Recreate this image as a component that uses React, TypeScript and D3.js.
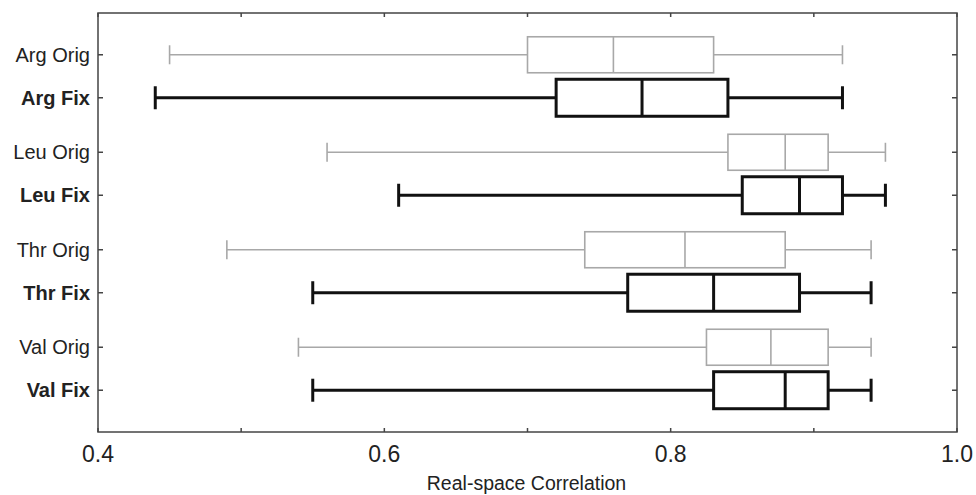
import * as d3 from 'd3';

// Data
const residues = ["Arg", "Leu", "Thr", "Val"];
const variants = ["Orig", "Fix"];

const whiskerLow = {
    Orig: [0.45, 0.56, 0.49, 0.54],
    Fix: [0.44, 0.61, 0.55, 0.55]
};
const quart1 = {
    Orig: [0.70, 0.84, 0.74, 0.825],
    Fix: [0.72, 0.85, 0.77, 0.83]
};
const medians = {
    Orig: [0.76, 0.88, 0.81, 0.87],
    Fix: [0.78, 0.89, 0.83, 0.88]
};
const quart3 = {
    Orig: [0.83, 0.91, 0.88, 0.91],
    Fix: [0.84, 0.92, 0.89, 0.91]
};
const whiskerHigh = {
    Orig: [0.92, 0.95, 0.94, 0.94],
    Fix: [0.92, 0.95, 0.94, 0.94]
};

const xTicks = [0.4, 0.5, 0.6, 0.7, 0.8, 0.9, 1.0];
const xTickLabels = [0.4, 0.6, 0.8, 1.0];

const width = 976;
const height = 495;
const margin = { left: 98, right: 19, top: 13, bottom: 63 };

const styles = {
    Orig: { stroke: "#a8a8a8", width: 1.6, cap: 9.5, half: 18, weight: "normal" },
    Fix: { stroke: "#111", width: 3, cap: 11.5, half: 18.5, weight: "bold" }
};

function App() {
    const x = d3.scaleLinear()
        .domain([0.4, 1.0])
        .range([margin.left, width - margin.right]);

    const yGroup = d3.scaleBand()
        .domain(residues)
        .range([margin.top, height - margin.bottom])
        .paddingInner(0)
        .paddingOuter(0.149);

    const ySub = d3.scalePoint()
        .domain(variants)
        .range([0, yGroup.bandwidth()])
        .padding(0.634);

    const rows = [];
    residues.forEach((r, i) => {
        variants.forEach(v => {
            rows.push({
                label: r + " " + v,
                variant: v,
                y: yGroup(r) + ySub(v),
                lo: whiskerLow[v][i],
                q1: quart1[v][i],
                med: medians[v][i],
                q3: quart3[v][i],
                hi: whiskerHigh[v][i]
            });
        });
    });

    const x0 = margin.left, x1 = width - margin.right;
    const y0 = margin.top, y1 = height - margin.bottom;
    const font = "'Liberation Sans', Arial, Helvetica, sans-serif";

    return (
        <svg width={width} height={height} style={{ position: "absolute", left: 0, top: 0, background: "#fff" }}>
            {/* boxes */}
            {rows.map(d => {
                const s = styles[d.variant];
                return (
                    <g key={d.label} stroke={s.stroke} strokeWidth={s.width} fill="none">
                        <line x1={x(d.lo)} x2={x(d.q1)} y1={d.y} y2={d.y} />
                        <line x1={x(d.q3)} x2={x(d.hi)} y1={d.y} y2={d.y} />
                        <line x1={x(d.lo)} x2={x(d.lo)} y1={d.y - s.cap} y2={d.y + s.cap} />
                        <line x1={x(d.hi)} x2={x(d.hi)} y1={d.y - s.cap} y2={d.y + s.cap} />
                        <rect x={x(d.q1)} y={d.y - s.half} width={x(d.q3) - x(d.q1)} height={2 * s.half} />
                        <line x1={x(d.med)} x2={x(d.med)} y1={d.y - s.half} y2={d.y + s.half} />
                    </g>
                );
            })}

            {/* frame */}
            <rect x={x0} y={y0} width={x1 - x0} height={y1 - y0} fill="none" stroke="#444" strokeWidth={1.5} />

            {/* x ticks, inward top and bottom */}
            {xTicks.map(t => (
                <g key={t} stroke="#444" strokeWidth={1.5}>
                    <line x1={x(t)} x2={x(t)} y1={y1} y2={y1 - 4} />
                    <line x1={x(t)} x2={x(t)} y1={y0} y2={y0 + 4} />
                </g>
            ))}
            {xTickLabels.map(t => (
                <text key={t} x={x(t)} y={y1 + 30} textAnchor="middle" fontFamily={font} fontSize={23} fill="#222">
                    {d3.format(".1f")(t)}
                </text>
            ))}

            {/* y ticks and labels */}
            {rows.map(d => (
                <g key={"t" + d.label}>
                    <line x1={x0} x2={x0 + 5} y1={d.y} y2={d.y} stroke="#444" strokeWidth={1.5} />
                    <line x1={x1} x2={x1 - 5} y1={d.y} y2={d.y} stroke="#444" strokeWidth={1.5} />
                    <text x={x0 - 8} y={d.y} dy="0.35em" textAnchor="end" fontFamily={font} fontSize={20}
                        fontWeight={styles[d.variant].weight} fill="#222">
                        {d.label}
                    </text>
                </g>
            ))}

            <text x={(x0 + x1) / 2 - 1} y={height - 5} textAnchor="middle" fontFamily={font} fontSize={19.5} fill="#222">
                Real-space Correlation
            </text>
        </svg>
    );
}

export default App;
